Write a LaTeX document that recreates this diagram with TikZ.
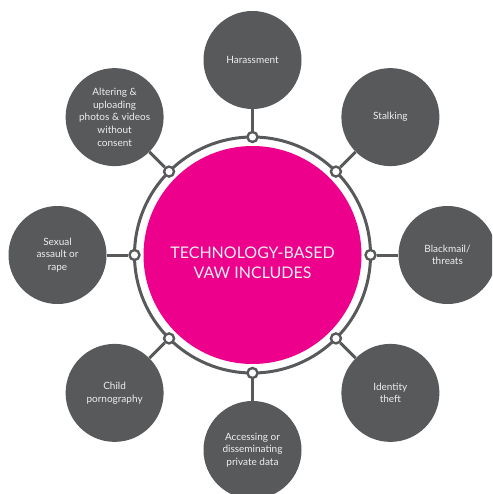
\documentclass[tikz,border=0pt]{standalone}
\usepackage{fontspec}
\setmainfont{Lato}
\usetikzlibrary{calc}
\definecolor{dgray}{HTML}{58595B}
\definecolor{vpink}{HTML}{EC008C}
\definecolor{ltext}{HTML}{EEEEEE}
\begin{document}
\begin{tikzpicture}[x=1pt,y=-1pt,
  outer/.style={circle,fill=dgray,minimum size=98pt,inner sep=0pt,align=center,
    text=ltext,font=\fontsize{10}{12.7}\selectfont},
  knob/.style={circle,draw=dgray,fill=white,line width=2.4pt,minimum size=10pt,inner sep=0pt},
  link/.style={draw=dgray,line width=3pt}]
\clip (0,0) rectangle (492,494);
\useasboundingbox (0,0) rectangle (492,494);
\coordinate (C) at (252.5,255);
\node[circle,draw=dgray,line width=3pt,minimum size=236pt,inner sep=0pt] (ring) at (C) {};
\node[circle,fill=vpink,minimum size=218pt,inner sep=0pt] (core) at (C) {};
\node[text=ltext,align=center,font=\fontsize{16}{19.5}\selectfont] (coretext)
  at ($(C)+(0,8)$) {TECHNOLOGY-BASED\\VAW INCLUDES};
\foreach \n/\a/\t in {
  1/90/{Harassment},
  2/45/{Stalking},
  3/0/{Blackmail/\\threats},
  4/-45/{Identity\\theft},
  5/-90/{Accessing or\\disseminating\\private data},
  6/-135/{Child\\pornography},
  7/180/{Sexual\\assault or\\rape},
  8/135/{Altering \&\\uploading\\photos \& videos\\without\\consent}}{
  \node[outer] (o\n) at ($(C)+(\a:195 and -195)$) {\t};
  \node[knob] (k\n) at ($(C)+(\a:118 and -118)$) {};
  \draw[link] (k\n) -- (o\n);
}
\end{tikzpicture}
\end{document}
